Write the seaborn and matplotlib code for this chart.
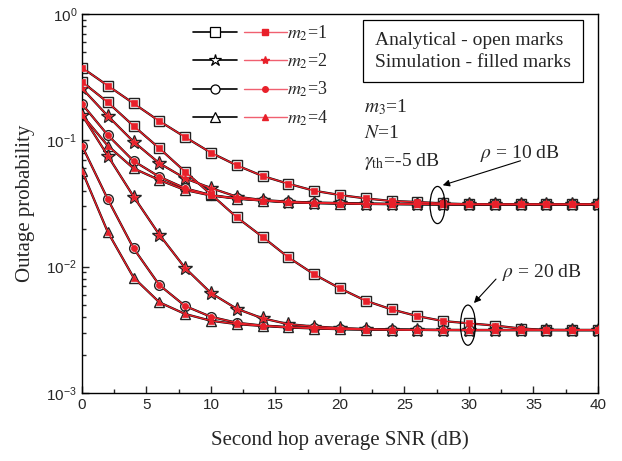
import numpy as np
import pandas as pd
import seaborn as sns
import matplotlib.pyplot as plt
from matplotlib.lines import Line2D
from matplotlib.legend_handler import HandlerTuple
from matplotlib.patches import Ellipse
from matplotlib.ticker import FixedLocator, LogLocator, FuncFormatter, MultipleLocator, NullFormatter

# second hop average SNR (dB)
snr = [0, 2, 4, 6, 8, 10, 12, 14, 16, 18, 20, 22, 24, 26, 28, 30, 32, 34, 36, 38, 40]

# rho = 10 dB
rho10_m1 = [0.376, 0.271, 0.196, 0.142, 0.106, 0.0798, 0.0634, 0.0522, 0.0453, 0.0399, 0.0369,
            0.0347, 0.0331, 0.0325, 0.0317, 0.0312, 0.0311, 0.0311, 0.0311, 0.0311, 0.0311]
rho10_m2 = [0.258, 0.156, 0.0975, 0.0658, 0.0500, 0.0419, 0.0358, 0.0337, 0.0327, 0.0322, 0.0319,
            0.0316, 0.0314, 0.0313, 0.0312, 0.0311, 0.0311, 0.0311, 0.0311, 0.0311, 0.0311]
rho10_m3 = [0.194, 0.110, 0.0686, 0.0515, 0.0417, 0.0369, 0.0347, 0.0334, 0.0323, 0.0319, 0.0316,
            0.0314, 0.0313, 0.0312, 0.0311, 0.0311, 0.0311, 0.0311, 0.0311, 0.0311, 0.0311]
rho10_m4 = [0.159, 0.0906, 0.0600, 0.0485, 0.0404, 0.0366, 0.0345, 0.0334, 0.0323, 0.0319, 0.0316,
            0.0314, 0.0313, 0.0312, 0.0311, 0.0311, 0.0311, 0.0311, 0.0311, 0.0311, 0.0311]

# rho = 20 dB
rho20_m1 = [0.291, 0.200, 0.130, 0.0865, 0.0564, 0.0374, 0.0246, 0.0172, 0.01185, 0.00869, 0.00673,
            0.00537, 0.00459, 0.00406, 0.00371, 0.00356, 0.00342, 0.00324, 0.00316, 0.00315, 0.00315]
rho20_m2 = [0.159, 0.0755, 0.0359, 0.0179, 0.00975, 0.00618, 0.00464, 0.00390, 0.00351, 0.00336, 0.00327,
            0.00321, 0.00318, 0.00317, 0.00316, 0.00315, 0.00315, 0.00315, 0.00315, 0.00315, 0.00315]
rho20_m3 = [0.0906, 0.0342, 0.01396, 0.00715, 0.00488, 0.00401, 0.00360, 0.00342, 0.00333, 0.00327, 0.00321,
            0.00318, 0.00317, 0.00316, 0.00315, 0.00315, 0.00315, 0.00315, 0.00315, 0.00315, 0.00315]
rho20_m4 = [0.0574, 0.0188, 0.00820, 0.00522, 0.00422, 0.00373, 0.00351, 0.00339, 0.00330, 0.00324, 0.00320,
            0.00318, 0.00317, 0.00316, 0.00315, 0.00315, 0.00315, 0.00315, 0.00315, 0.00315, 0.00315]

m2_labels = ['$m_2$=1', '$m_2$=2', '$m_2$=3', '$m_2$=4']
markers = ['s', '*', 'o', '^']

sns.set_style('ticks')
plt.rcParams['font.family'] = ['Liberation Serif', 'DejaVu Serif']
plt.rcParams['mathtext.fontset'] = 'stix'

red = '#E8202A'

fig = plt.figure(figsize=(6.22, 4.61), dpi=100)
ax = fig.add_axes([0.1318, 0.1475, 0.8296, 0.8221])

curves = [rho10_m1, rho10_m2, rho10_m3, rho10_m4, rho20_m1, rho20_m2, rho20_m3, rho20_m4]
for i, vals in enumerate(curves):
    mk = markers[i % 4]
    big = 10 if mk == '*' else 7
    small = 6.5 if mk == '*' else 4.5
    # analytical: open marks
    sns.lineplot(x=snr, y=vals, ax=ax, color='black', lw=1.6, marker=mk, markersize=big,
                 markerfacecolor='white', markeredgecolor='#222222', markeredgewidth=1.0, zorder=2)
    # simulation: filled marks
    sns.lineplot(x=snr, y=vals, ax=ax, color=red, lw=1.0, marker=mk, markersize=small,
                 markerfacecolor=red, markeredgecolor=red, markeredgewidth=0.5, zorder=3)

ax.set_yscale('log')
ax.set_xlim(0, 40)
ax.set_ylim(1e-3, 1)
ax.xaxis.set_major_locator(MultipleLocator(5))
ax.xaxis.set_minor_locator(MultipleLocator(2.5))
ax.yaxis.set_major_locator(FixedLocator([1e-3, 1e-2, 1e-1, 1]))
ax.yaxis.set_minor_locator(LogLocator(base=10, subs=np.arange(2, 10)))
ax.yaxis.set_minor_formatter(NullFormatter())
ax.yaxis.set_major_formatter(FuncFormatter(lambda v, p: r'$\mathregular{10^{%d}}$' % int(round(np.log10(v)))))
ax.tick_params(which='both', direction='in', top=False, right=False, width=1.0)
ax.tick_params(which='major', length=5, labelsize=11)
ax.tick_params(which='minor', length=3)
for lab in ax.get_xticklabels() + ax.get_yticklabels():
    lab.set_family('Liberation Sans')
for sp in ax.spines.values():
    sp.set_linewidth(1.0)
    sp.set_color('black')

ax.set_xlabel('Second hop average SNR (dB)', fontsize=15, labelpad=13)
ax.set_ylabel('Outage probability', fontsize=15, labelpad=8)

# legend with open + filled handles
handles = []
for mk in markers:
    big = 9 if mk == '*' else 6.5
    small = 6 if mk == '*' else 4
    h1 = Line2D([], [], color='black', lw=1.2, marker=mk, markersize=big,
                markerfacecolor='white', markeredgecolor='black', markeredgewidth=0.9)
    h2 = Line2D([], [], color='#F06070', lw=1.0, marker=mk, markersize=small,
                markerfacecolor=red, markeredgecolor=red)
    handles.append((h1, h2))
ax.legend(handles, m2_labels, handler_map={tuple: HandlerTuple(ndivide=None, pad=0.4)},
          loc='upper left', bbox_to_anchor=(0.2015, 0.995), frameon=False,
          handlelength=5.2, handletextpad=0.0, labelspacing=0.5, fontsize=13, borderaxespad=0)

ax.text(0.568, 0.902, 'Analytical - open marks\nSimulation - filled marks', transform=ax.transAxes,
        fontsize=14, va='center', ha='left', linespacing=1.4,
        bbox=dict(boxstyle='square,pad=0.6', fc='white', ec='black', lw=0.9))

ax.text(0.547, 0.755, '$m_3$=1', transform=ax.transAxes, fontsize=14, va='center')
ax.text(0.547, 0.686, '$N$=1', transform=ax.transAxes, fontsize=14, va='center')
ax.text(0.547, 0.612, r'$\gamma_{\rm th}$=-5 dB', transform=ax.transAxes, fontsize=14, va='center')

ax.text(0.771, 0.631, r'$\rho$ = 10 dB', transform=ax.transAxes, fontsize=14, va='center')
ax.text(0.814, 0.317, r'$\rho$ = 20 dB', transform=ax.transAxes, fontsize=14, va='center')
ax.annotate('', xy=(0.694, 0.546), xytext=(0.855, 0.615), xycoords='axes fraction',
            arrowprops=dict(arrowstyle='-|>', color='black', lw=0.8, mutation_scale=10))
ax.annotate('', xy=(0.756, 0.232), xytext=(0.806, 0.306), xycoords='axes fraction',
            arrowprops=dict(arrowstyle='-|>', color='black', lw=0.8, mutation_scale=10))
ax.add_patch(Ellipse((0.689, 0.496), 0.029, 0.098, transform=ax.transAxes,
                     fill=False, ec='black', lw=0.9, zorder=5))
ax.add_patch(Ellipse((0.748, 0.179), 0.029, 0.106, transform=ax.transAxes,
                     fill=False, ec='black', lw=0.9, zorder=5))

fig.savefig('out.png', dpi=100)
